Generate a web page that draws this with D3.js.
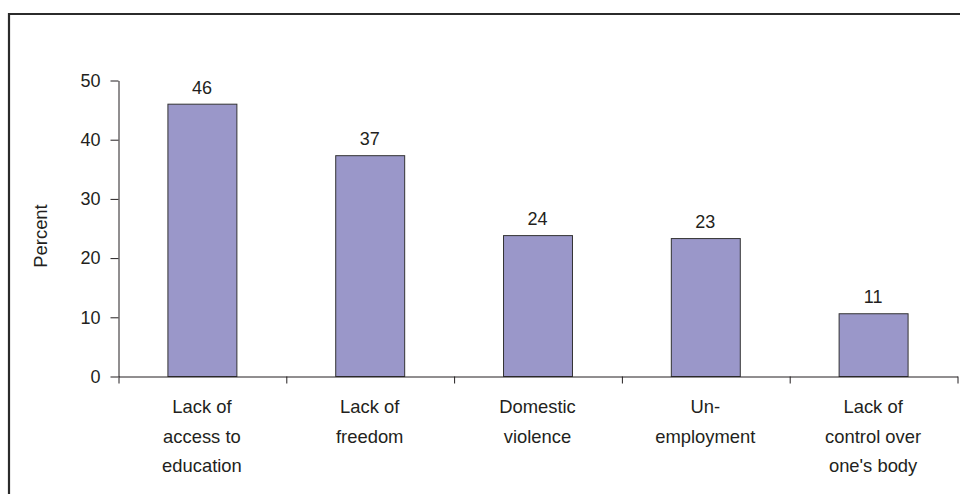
<!DOCTYPE html>
<html>
<head>
<meta charset="utf-8">
<script src="https://cdn.jsdelivr.net/npm/d3@7"></script>
<style>
  html, body { margin: 0; padding: 0; background: #fff; }
  svg { display: block; }
  text { font-family: "Liberation Sans", Arial, Helvetica, sans-serif; fill: #231f20; }
</style>
</head>
<body>
<svg id="chart" width="960" height="494"></svg>
<script>
const categories = [
  ["Lack of", "access to", "education"],
  ["Lack of", "freedom"],
  ["Domestic", "violence"],
  ["Un-", "employment"],
  ["Lack of", "control over", "one's body"]
];
const values = [46.0, 37.3, 23.8, 23.3, 10.6];
const yTicks = [0, 10, 20, 30, 40, 50];
const yTitle = "Percent";

(function () {
const W = 960, H = 494;
const svg = d3.select("#chart");
const keys = categories.map((c, i) => i);

const pLeft = 118, pRight = 957, pTop = 80, pBottom = 376;

const y = d3.scaleLinear().domain([0, 50]).range([pBottom, pTop]);
const x = d3.scaleBand().domain(keys).range([pLeft, pRight])
  .paddingInner(0.589).paddingOuter(0.2945);
const xb = d3.scaleLinear().domain([0, categories.length]).range([pLeft, pRight]);

// frame
svg.append("path")
  .attr("d", `M9,${H} V14 H${W}`)
  .attr("fill", "none").attr("stroke", "#2b2b2b").attr("stroke-width", 2.2);

// bars
svg.selectAll("rect.bar").data(values).join("rect")
  .attr("class", "bar")
  .attr("x", (d, i) => x(i) + 0.5)
  .attr("y", d => y(d) + 0.5)
  .attr("width", x.bandwidth())
  .attr("height", d => y(0) - y(d))
  .attr("fill", "#9a97c9")
  .attr("stroke", "#333").attr("stroke-width", 1);

// value labels
svg.selectAll("text.val").data(values).join("text")
  .attr("class", "val")
  .attr("x", (d, i) => x(i) + x.bandwidth() / 2)
  .attr("y", d => y(d) - 10)
  .attr("text-anchor", "middle")
  .style("font-size", "18px")
  .text(d => Math.round(d));

// y axis
const yAxis = svg.append("g")
  .attr("transform", `translate(${pLeft + 0.5},0.5)`)
  .call(d3.axisLeft(y).tickValues(yTicks).tickSize(8).tickPadding(10).tickSizeOuter(0));
yAxis.select(".domain").attr("stroke", "#231f20");
yAxis.selectAll(".tick line").attr("stroke", "#231f20");
yAxis.selectAll(".tick text").style("font-size", "18px").attr("fill", "#231f20")
  .style("font-family", "'Liberation Sans', Arial, sans-serif");

// x axis
const xAxis = svg.append("g")
  .attr("transform", `translate(0.5,${pBottom + 0.5})`)
  .call(d3.axisBottom(xb).tickValues(d3.range(categories.length + 1)).tickSize(7).tickSizeOuter(0).tickFormat(""));
xAxis.select(".domain").attr("stroke", "#231f20");
xAxis.selectAll(".tick line").attr("stroke", "#231f20");

// category labels
const cat = svg.selectAll("g.cat").data(categories).join("g")
  .attr("class", "cat")
  .attr("transform", (d, i) => `translate(${x(i) + x.bandwidth() / 2},0)`);
cat.selectAll("text").data(d => d).join("text")
  .attr("x", 0)
  .attr("y", (d, j) => 413 + j * 29.5)
  .attr("text-anchor", "middle")
  .style("font-size", "18.4px")
  .text(d => d);

// y title
svg.append("text")
  .attr("transform", `translate(47,236) rotate(-90)`)
  .attr("text-anchor", "middle")
  .style("font-size", "18.4px")
  .text(yTitle);
})();
</script>
</body>
</html>
